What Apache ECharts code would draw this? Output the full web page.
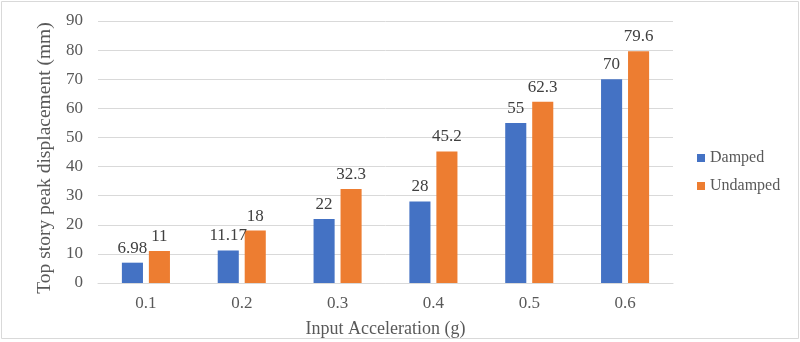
<!DOCTYPE html>
<html><head><meta charset="utf-8">
<script src="https://cdn.jsdelivr.net/npm/echarts@6/dist/echarts.min.js"></script>
<style>html,body{margin:0;padding:0;background:#fff}#c{width:800px;height:342px}</style>
</head><body><div id="c"></div>
<script>
var categories = ['0.1','0.2','0.3','0.4','0.5','0.6'];
var damped = [6.98, 11.17, 22, 28, 55, 70];
var undamped = [11, 18, 32.3, 45.2, 62.3, 79.6];
var seriesNames = ['Damped','Undamped'];
var yTitle = 'Top story peak displacement (mm)';
var xTitle = 'Input Acceleration (g)';

var font = '"Liberation Serif", "Times New Roman", serif';
var chart = echarts.init(document.getElementById('c'));
var lbl = {show:true, position:'top', distance:6, color:'#404040', fontSize:17, fontFamily:font,
  formatter:function(p){return String(p.value);}};
chart.setOption({
  animation:false,
  textStyle:{fontFamily:font},
  graphic:[{type:'rect', shape:{x:1.5,y:1.5,width:797,height:337}, style:{fill:'none', stroke:'#d9d9d9', lineWidth:1}, silent:true}],
  grid:{left:98, right:127, top:21, bottom:59, containLabel:false, outerBoundsMode:'none'},
  legend:{orient:'vertical', left:692, top:145, itemWidth:8, itemHeight:8, itemGap:12, itemStyle:{borderWidth:0},
    icon:'rect', textStyle:{fontSize:16, color:'#595959', fontFamily:font}, data:seriesNames},
  xAxis:{type:'category', data:categories, name:xTitle, nameLocation:'middle', nameGap:37,
    nameTextStyle:{fontSize:18, color:'#595959', fontFamily:font},
    axisLine:{show:true, lineStyle:{color:'#d9d9d9'}}, axisTick:{show:false},
    axisLabel:{fontSize:17, color:'#595959', margin:12, fontFamily:font}},
  yAxis:{type:'value', min:0, max:90, interval:10, name:yTitle, nameLocation:'middle', nameGap:35,
    nameTextStyle:{fontSize:19.5, color:'#595959', fontFamily:font, padding:[0,12,0,0]},
    axisLine:{show:false}, axisTick:{show:false},
    axisLabel:{fontSize:17, color:'#595959', margin:15, fontFamily:font},
    splitLine:{lineStyle:{color:'#d9d9d9'}}},
  series:[
    {name:seriesNames[0], type:'bar', data:damped, barWidth:'22%', barGap:'28%', itemStyle:{color:'#4472C4'}, label:lbl},
    {name:seriesNames[1], type:'bar', data:undamped, barWidth:'22%', itemStyle:{color:'#ED7D31'}, label:lbl}
  ]
});
</script></body></html>
